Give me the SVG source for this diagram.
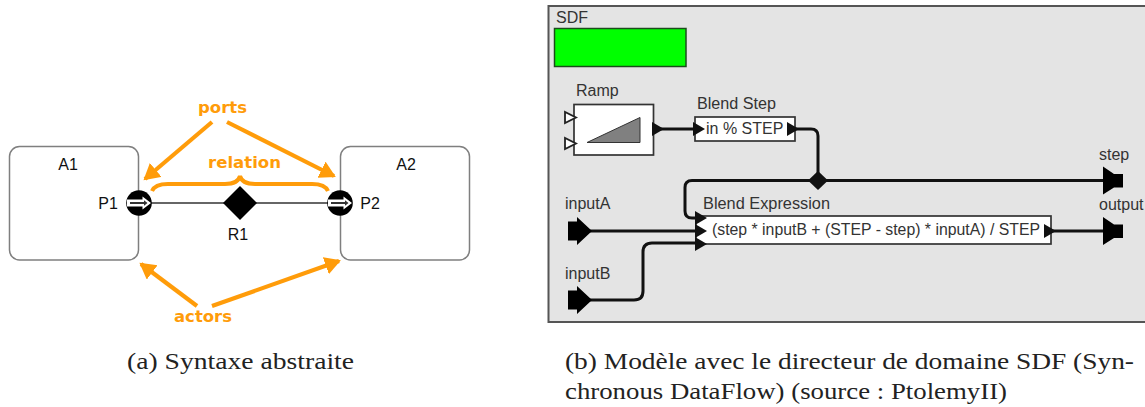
<svg xmlns="http://www.w3.org/2000/svg" width="1145" height="407" viewBox="0 0 1145 407">
<style>
.actor{fill:#fff;stroke:#7f7f7f;stroke-width:1.5}
.lbl{font-family:"Liberation Sans",Arial,sans-serif;font-size:16px;fill:#111;text-anchor:middle}
.or{font-family:"DejaVu Sans","Liberation Sans",sans-serif;font-weight:700;font-size:15.500px;fill:#ff9c0a}
.oa{fill:none;stroke:#ff9c0a;stroke-width:4.200;marker-end:url(#oh)}
.pl{font-family:"Liberation Sans",Arial,sans-serif;font-size:16px;fill:#333}
.cap{font-family:"Liberation Serif","Times New Roman",serif;font-size:22.500px;fill:#222}
.box{fill:#fff;stroke:#333;stroke-width:1.7}
.w{fill:none;stroke:#111;stroke-width:3}
</style>
<defs>
<marker id="oh" markerUnits="userSpaceOnUse" markerWidth="20" markerHeight="20" refX="14" refY="9" orient="auto"><path d="M0 0L16 9L0 18Z" fill="#ff9c0a"/></marker>
<g id="port"><circle r="12.800" fill="#000"/><path d="M-12-3.500H3.500V-6.500L12 0L3.500 6.500V3.500H-12Z" fill="#fff"/><path d="M-9-1H5V-2.800L8.500 0L5 2.800V1H-9Z" fill="#333"/></g>
<path id="inp" d="M-11-9.500H-2V-14L13 0L-2 14V9.500H-11Z" fill="#000"/>
<path id="outp" d="M-10-14L1-6.500H10V7H1L-10 14Z" fill="#000"/>
<path id="ah" d="M-5-7L7 0L-5 7Z" fill="#111"/>
</defs>
<g id="A1"><rect class="actor" x="9.500" y="146.500" width="129" height="113.500" rx="10"/><text class="lbl" x="68" y="170">A1</text></g>
<g id="A2"><rect class="actor" x="340.500" y="146.500" width="129" height="113.500" rx="10"/><text class="lbl" x="406" y="170">A2</text></g>
<g id="connectors-a">
<path d="M139 203H340" stroke="#333" stroke-width="1.300" fill="none"/>
<path class="oa" d="M212 122L145 179"/>
<path class="oa" d="M227 122L334 176"/>
<path class="oa" d="M197 306L141 264"/>
<path class="oa" d="M212 306L339 261"/>
<path d="M152 191Q155 184 168 184H225Q238 184 240 176Q242 184 255 184H312Q325 184 328 191" fill="none" stroke="#ff9c0a" stroke-width="4"/>
</g>
<g id="P1"><use href="#port" x="139" y="203"/><text class="lbl" x="108" y="209">P1</text></g>
<g id="P2"><use href="#port" x="340" y="203"/><text class="lbl" x="370" y="209">P2</text></g>
<g id="R1"><path d="M223 203L240 186L257 203L240 220Z" fill="#000"/><text class="lbl" x="238" y="240">R1</text></g>
<g id="labels"><text class="or" x="198" y="113" textLength="49" lengthAdjust="spacingAndGlyphs">ports</text><text class="or" x="208" y="168" textLength="73" lengthAdjust="spacingAndGlyphs">relation</text><text class="or" x="174" y="322" textLength="58" lengthAdjust="spacingAndGlyphs">actors</text></g>
<g id="SDF"><rect x="548.500" y="6" width="600" height="316" fill="#e4e4e4" stroke="#555" stroke-width="2"/><text class="pl" x="556" y="23">SDF</text><rect x="554.500" y="28.500" width="131.500" height="38" fill="#00ff00" stroke="#1c4c1c" stroke-width="1.500"/></g>
<g id="connectors-b">
<path class="w" d="M655 129H697"/>
<path class="w" d="M793 129H811Q818 129 818 136V181"/>
<path class="w" d="M1104 180.500H692Q685 180.500 685 187.500V211Q685 218 692 218H698"/>
<path class="w" d="M590 231H698"/>
<path class="w" d="M590 300H634Q643 300 643 291V252Q643 243 652 243H698"/>
<path class="w" d="M1048 231H1104"/>
<path d="M818 171L828 180.500L818 190L808 180.500Z" fill="#111"/>
</g>
<g id="Ramp"><rect class="box" x="574" y="104.500" width="79.500" height="50.500"/><path d="M587 142.500L640 117.500V142.500Z" fill="#808080" stroke="#333"/><path d="M565 112V123L576 117.500ZM565 138V149L576 143.500Z" fill="#fff" stroke="#222" stroke-width="1.800"/><use href="#ah" x="657" y="129"/><text class="pl" x="576" y="96">Ramp</text></g>
<g id="BlendStep"><rect class="box" x="695" y="117" width="100" height="24"/><use href="#ah" x="698" y="129"/><use href="#ah" x="792" y="129"/><text class="pl" x="706" y="134">in % STEP</text><text class="pl" x="697" y="109" textLength="79" lengthAdjust="spacingAndGlyphs">Blend Step</text></g>
<g id="BlendExpression"><rect class="box" x="696" y="216" width="355" height="28"/><use href="#ah" x="700" y="218"/><use href="#ah" x="700" y="231"/><use href="#ah" x="700" y="244"/><use href="#ah" x="1049" y="231"/><text class="pl" x="712" y="235" textLength="328" lengthAdjust="spacingAndGlyphs">(step * inputB + (STEP - step) * inputA) / STEP</text><text class="pl" x="703" y="209" textLength="127" lengthAdjust="spacingAndGlyphs">Blend Expression</text></g>
<g id="inputA"><use href="#inp" x="579" y="231"/><text class="pl" x="565" y="209">inputA</text></g>
<g id="inputB"><use href="#inp" x="579" y="300"/><text class="pl" x="565" y="279">inputB</text></g>
<g id="step"><use href="#outp" x="1113" y="180.500"/><text class="pl" x="1099" y="160">step</text></g>
<g id="output"><use href="#outp" x="1113" y="231"/><text class="pl" x="1099" y="210">output</text></g>
<g id="captions">
<text class="cap" x="127" y="369" textLength="227" lengthAdjust="spacingAndGlyphs">(a) Syntaxe abstraite</text>
<text class="cap" x="565" y="369" textLength="569" lengthAdjust="spacingAndGlyphs">(b) Modèle avec le directeur de domaine SDF (Syn-</text>
<text class="cap" x="565" y="399" textLength="442" lengthAdjust="spacingAndGlyphs">chronous DataFlow) (source : PtolemyII)</text>
</g>
</svg>
